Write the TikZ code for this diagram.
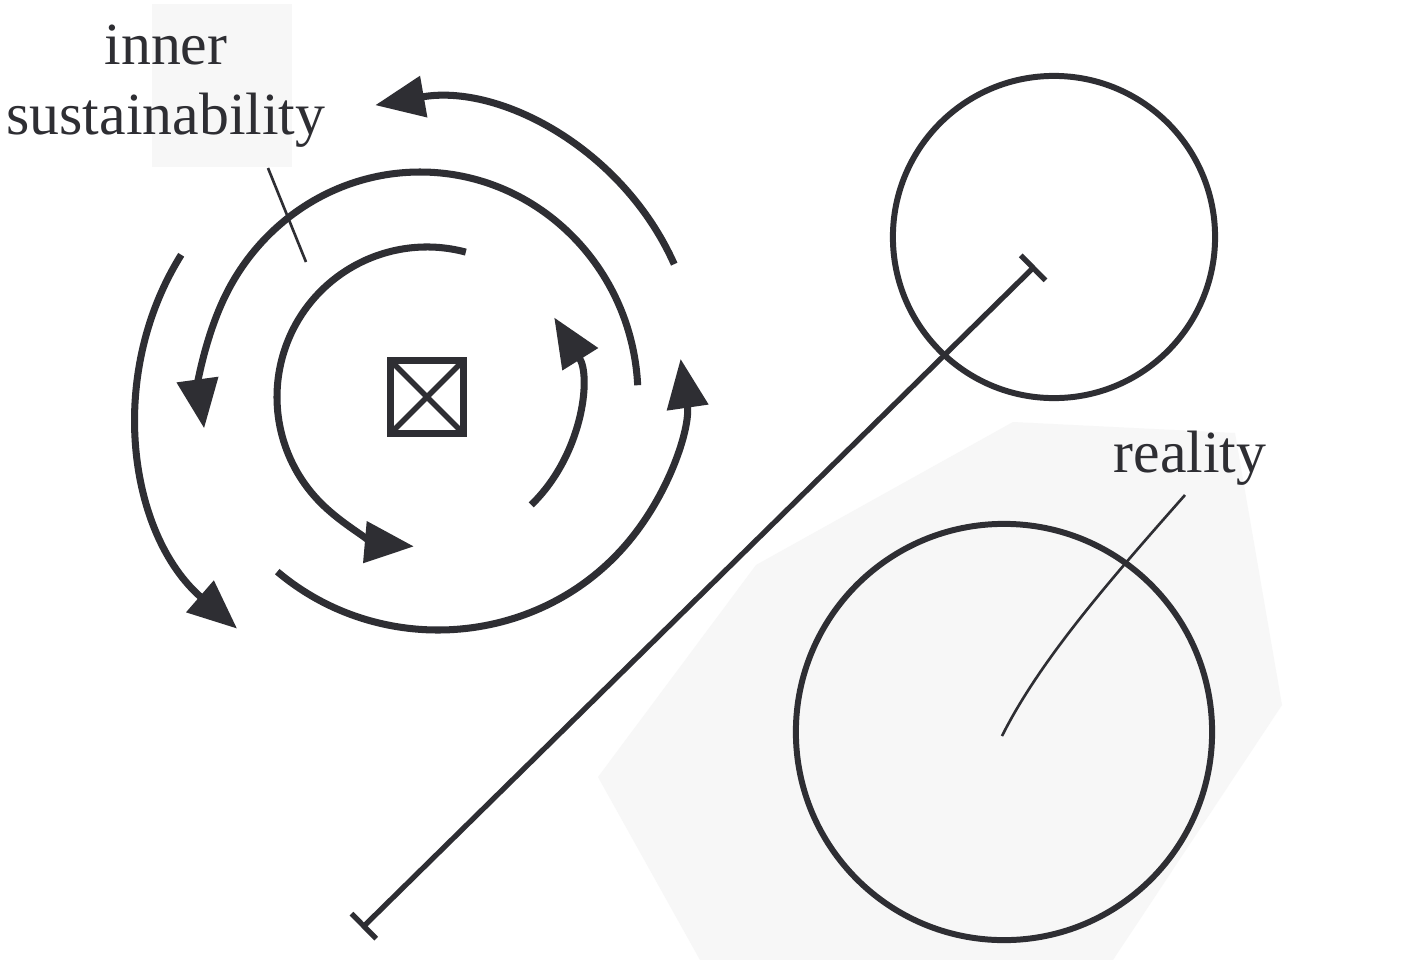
\documentclass[tikz,border=0pt]{standalone}
\usepackage{fontspec}
\setmainfont{Liberation Serif}
\usetikzlibrary{arrows.meta}
\definecolor{ink}{RGB}{46,46,51}
\definecolor{paper}{RGB}{247,247,247}
\tikzset{flow/.style={ink, line width=2pt, -{Triangle[length=14pt,width=11.5pt]}}}
\tikzset{ring/.style={draw=ink, line width=1.7pt, circle, inner sep=0pt}}
\tikzset{leader/.style={ink, line width=0.75pt}}
\tikzset{lbl/.style={text=ink, font=\fontsize{17}{20}\selectfont, inner sep=0pt}}

\begin{document}
\begin{tikzpicture}[x=0.01cm, y=0.01cm]
\fill[white] (0,0) rectangle (1408,-960);
\useasboundingbox (0,0) rectangle (1408,-960);
% shaded patches
\fill[paper] (152,-4) rectangle (292,-167);
\fill[paper] (1013,-422) -- (1235,-433) -- (1282,-705) -- (1113,-960) -- (700,-960) -- (598,-777) -- (756,-565) -- cycle;
% centres of the spiral turns
\coordinate (c0) at (427,-397);
\coordinate (c1) at (420,-397);
\coordinate (c2) at (438,-392);
\coordinate (c3) at (428,-409);
\coordinate (c4) at (423,-376);
% inner turn
\draw[flow] ([shift={(75:150)}]c0) arc[start angle=75, end angle=265, radius=150];
\draw[flow] ([shift={(-46:150)}]c0) arc[start angle=-46, end angle=32, radius=150];
% middle turn
\draw[flow] ([shift={(3:218 and 225)}]c1) arc[start angle=3, end angle=188, x radius=218, y radius=225];
\draw[flow] ([shift={(229:245 and 238)}]c2) arc[start angle=229, end angle=368, x radius=245, y radius=238];
% outer turn
\draw[flow] ([shift={(148:291)}]c3) arc[start angle=148, end angle=229, radius=291];
\draw[flow] ([shift={(24:275)}]c4) arc[start angle=24, end angle=100, radius=275];
% crossed box
\node[draw=ink, line width=2pt, minimum size=0.73cm, inner sep=0pt, outer sep=0pt] (core) at (427,-397) {};
\draw[ink, line width=1.6pt] (core.north west) -- (core.south east) (core.north east) -- (core.south west);
% right side
\node[ring, minimum size=3.22cm] (self) at (1054,-237) {};
\node[ring, minimum size=4.16cm] (world) at (1004,-732) {};
\coordinate (lo) at (362,-928);
\coordinate (hi) at (1035,-266);
\draw[ink, line width=1.5pt, {Bar[width=10pt]}-{Bar[width=10pt]}] (lo) -- (hi);
% labels
\node[lbl, align=center, anchor=north] (inner) at (166,-24) {inner\\sustainability};
\coordinate (innerfoot) at (268,-168);
\coordinate (innertip) at (306,-262);
\draw[leader] (innerfoot) -- (innertip);
\node[lbl, anchor=base] (real) at (1190,-472) {reality};
\coordinate (realfoot) at (1185,-495);
\coordinate (realtip) at (1002,-736);
\draw[leader] (realfoot) .. controls (1110,-580) and (1040,-660) .. (realtip);
\end{tikzpicture}
\end{document}
